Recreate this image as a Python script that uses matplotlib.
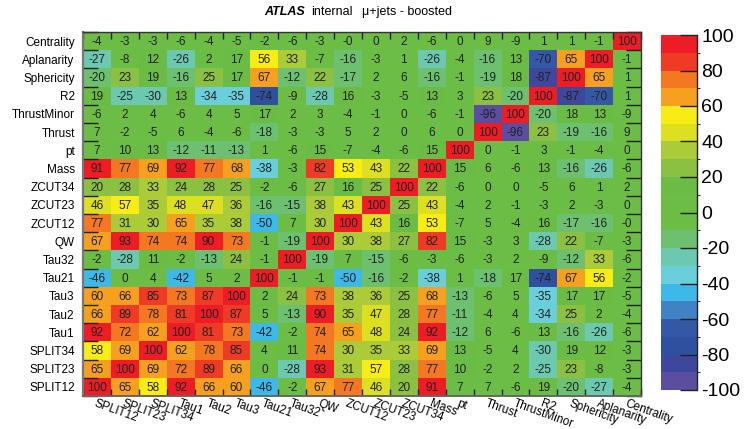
import numpy as np
import matplotlib
matplotlib.use("Agg")
import matplotlib.pyplot as plt
from matplotlib.colors import ListedColormap, BoundaryNorm

plt.rcParams['font.family'] = ['Liberation Sans', 'DejaVu Sans']

# rows top -> bottom, columns left -> right
row_names = ['Centrality', 'Aplanarity', 'Sphericity', 'R2', 'ThrustMinor', 'Thrust', 'pt', 'Mass',
             'ZCUT34', 'ZCUT23', 'ZCUT12', 'QW', 'Tau32', 'Tau21', 'Tau3', 'Tau2', 'Tau1',
             'SPLIT34', 'SPLIT23', 'SPLIT12']
col_names = ['SPLIT12', 'SPLIT23', 'SPLIT34', 'Tau1', 'Tau2', 'Tau3', 'Tau21', 'Tau32', 'QW',
             'ZCUT12', 'ZCUT23', 'ZCUT34', 'Mass', 'pt', 'Thrust', 'ThrustMinor', 'R2',
             'Sphericity', 'Aplanarity', 'Centrality']

# -0.4 entries are shown as "-0"
corr = [
    [-4, -3, -3, -6, -4, -5, -2, -6, -3, -0.4, 0, 2, -6, 0, 9, -9, 1, 1, -1, 100],
    [-27, -8, 12, -26, 2, 17, 56, 33, -7, -16, -3, 1, -26, -4, -16, 13, -70, 65, 100, -1],
    [-20, 23, 19, -16, 25, 17, 67, -12, 22, -17, 2, 6, -16, -1, -19, 18, -87, 100, 65, 1],
    [19, -25, -30, 13, -34, -35, -74, -9, -28, 16, -3, -5, 13, 3, 23, -20, 100, -87, -70, 1],
    [-6, 2, 4, -6, 4, 5, 17, 2, 3, -4, -1, 0, -6, -1, -96, 100, -20, 18, 13, -9],
    [7, -2, -5, 6, -4, -6, -18, -3, -3, 5, 2, 0, 6, 0, 100, -96, 23, -19, -16, 9],
    [7, 10, 13, -12, -11, -13, 1, -6, 15, -7, -4, -6, 15, 100, 0, -1, 3, -1, -4, 0],
    [91, 77, 69, 92, 77, 68, -38, -3, 82, 53, 43, 22, 100, 15, 6, -6, 13, -16, -26, -6],
    [20, 28, 33, 24, 28, 25, -2, -6, 27, 16, 25, 100, 22, -6, 0, 0, -5, 6, 1, 2],
    [46, 57, 35, 48, 47, 36, -16, -15, 38, 43, 100, 25, 43, -4, 2, -1, -3, 2, -3, 0],
    [77, 31, 30, 65, 35, 38, -50, 7, 30, 100, 43, 16, 53, -7, 5, -4, 16, -17, -16, -0.4],
    [67, 93, 74, 74, 90, 73, -1, -19, 100, 30, 38, 27, 82, 15, -3, 3, -28, 22, -7, -3],
    [-2, -28, 11, -2, -13, 24, -1, 100, -19, 7, -15, -6, -3, -6, -3, 2, -9, -12, 33, -6],
    [-46, 0, 4, -42, 5, 2, 100, -1, -1, -50, -16, -2, -38, 1, -18, 17, -74, 67, 56, -2],
    [60, 66, 85, 73, 87, 100, 2, 24, 73, 38, 36, 25, 68, -13, -6, 5, -35, 17, 17, -5],
    [66, 89, 78, 81, 100, 87, 5, -13, 90, 35, 47, 28, 77, -11, -4, 4, -34, 25, 2, -4],
    [92, 72, 62, 100, 81, 73, -42, -2, 74, 65, 48, 24, 92, -12, 6, -6, 13, -16, -26, -6],
    [58, 69, 100, 62, 78, 85, 4, 11, 74, 30, 35, 33, 69, 13, -5, 4, -30, 19, 12, -3],
    [65, 100, 69, 72, 89, 66, 0, -28, 93, 31, 57, 28, 77, 10, -2, 2, -25, 23, -8, -3],
    [100, 65, 58, 92, 66, 60, -46, -2, 67, 77, 46, 20, 91, 7, 7, -6, 19, -20, -27, -4],
]

# ROOT style palette, one colour per 10 units from -100 to 100
band_colors = ['#5B4D9F', '#3D479B', '#2F4F9F', '#3558A6', '#4082C4', '#3DB8E8', '#6BCEDB',
               '#6CC9B0', '#6CC070', '#6CBD45', '#6BBD45', '#6BBC45', '#8CC043', '#ACCB39',
               '#DCE020', '#F7EC13', '#F7A01F', '#F47721', '#EF3A25', '#EE1C25']
levels = np.arange(-100, 101, 10)

vals = np.array(corr, dtype=float)
nr, nc = vals.shape

cmap = ListedColormap(band_colors)
cmap.set_over(band_colors[-1])
cmap.set_under(band_colors[0])
norm = BoundaryNorm(levels, cmap.N)

fig = plt.figure(figsize=(7.44, 4.29), dpi=100)
ax = fig.add_axes([83 / 744, 1 - 396 / 429, 558 / 744, 364 / 429])
mesh = ax.pcolormesh(np.arange(nc + 1), np.arange(nr + 1), vals, cmap=cmap, norm=norm)
ax.set_xlim(0, nc)
ax.set_ylim(nr, 0)

for i in range(nr):
    for j in range(nc):
        ax.text(j + 0.5, i + 0.55, '%.0f' % vals[i, j], ha='center', va='center',
                fontsize=8.5, color='#222222')

# ticks on bin edges, labels on bin centres
ax.set_xticks(np.arange(nc + 1))
ax.set_yticks(np.arange(nr + 1))
ax.set_xticklabels([])
ax.set_yticklabels([])
ax.set_xticks(np.arange(nc) + 0.5, minor=True)
ax.set_yticks(np.arange(nr) + 0.5, minor=True)
ax.set_xticklabels(col_names, minor=True, rotation=-20, ha='left', rotation_mode='anchor',
                   fontsize=8.5)
ax.set_yticklabels(row_names, minor=True, fontsize=8.5)
ax.tick_params(which='minor', length=0)
ax.tick_params(axis='x', which='minor', pad=1)
ax.tick_params(axis='y', which='minor', pad=6)
ax.tick_params(axis='x', which='major', direction='in', length=5, width=1, top=True,
               bottom=True, color='#222222')
ax.tick_params(axis='y', which='major', direction='in', length=11, width=1, left=True,
               right=True, color='#222222')
for s in ax.spines.values():
    s.set_color('#333333')
    s.set_linewidth(1)
ax.spines['left'].set_color('#777777')
ax.spines['left'].set_linewidth(1.6)
ax.spines['bottom'].set_color('#666666')
ax.spines['bottom'].set_linewidth(1.4)

# colour bar
cax = fig.add_axes([661 / 744, 1 - 390 / 429, 36 / 744, 355 / 429])
cb = fig.colorbar(mesh, cax=cax, ticks=np.arange(-100, 101, 20))
cb.outline.set_visible(False)
cax.plot([1, 1], [0, 1], transform=cax.transAxes, color='#222222', lw=1, clip_on=False)
cax.tick_params(direction='in', length=12, width=1, color='#222222', labelsize=14, pad=3)
cax.set_yticklabels(['%d' % v for v in np.arange(-100, 101, 20)])

# title
fig.text(264 / 744, 1 - 12 / 429, 'ATLAS', fontsize=9, fontweight='bold', style='italic',
         va='center')
fig.text(311 / 744, 1 - 12 / 429, 'internal', fontsize=9, va='center')
fig.text(362 / 744, 1 - 12 / 429, '\u03bc+jets - boosted', fontsize=9, va='center')

fig.savefig('out.png', dpi=100)
